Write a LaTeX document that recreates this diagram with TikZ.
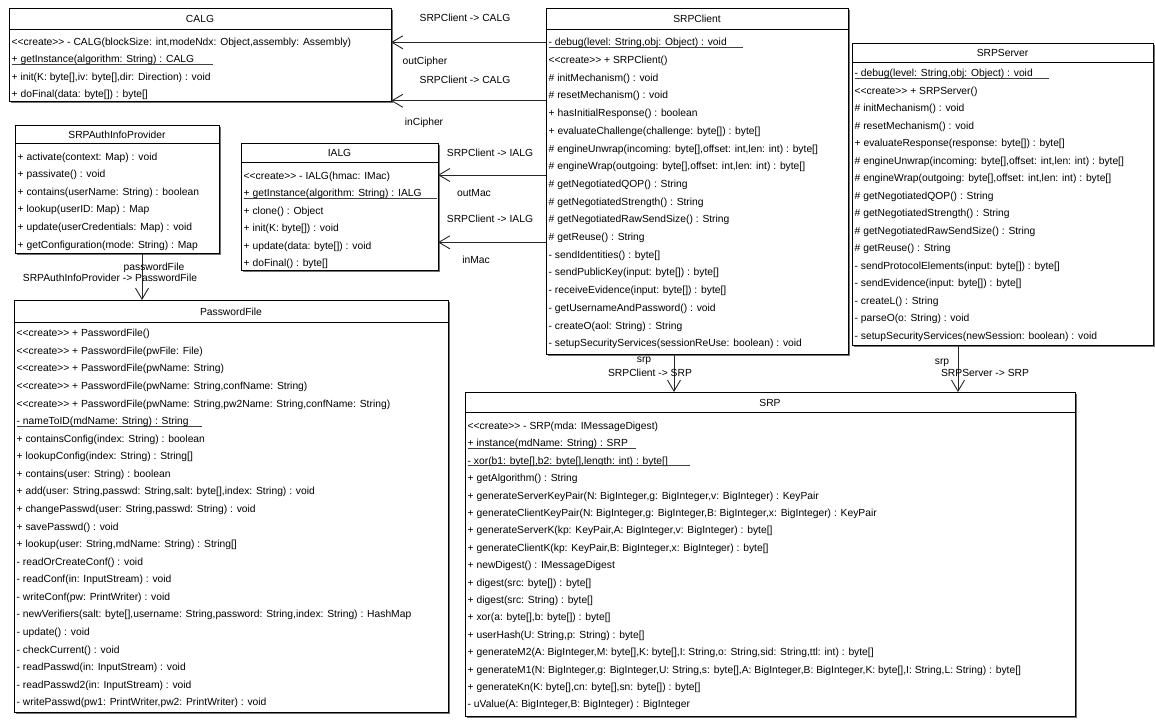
\documentclass[tikz,border=0pt]{standalone}
\usepackage{fontspec}
\setmainfont{Liberation Sans}
\usetikzlibrary{arrows.meta}

\newcommand{\umlsize}{\fontsize{10.3}{12}\selectfont}
% stereotype without the << >> guillemet ligature
\newcommand{\cre}{<{}<create>{}>}

\tikzset{
  umlbox/.style={draw=black, line width=0.9pt, fill=white, rectangle,
    inner sep=0pt, outer sep=0pt, anchor=north west},
  umlshadow/.style={fill=black!55},
  sepline/.style={line width=0.9pt},
  row/.style={anchor=base west, inner sep=0pt, font=\umlsize},
  title/.style={anchor=base, inner sep=0pt, font=\umlsize},
  lbl/.style={anchor=base, inner sep=0pt, font=\umlsize},
  staticline/.style={line width=0.8pt, black!75},
  assoc/.style={line width=0.9pt, black!85,
    -{Straight Barb[length=11pt,width=13pt,line width=0.9pt]}},
}

% class box: name, title, left, right, top, header line, bottom
\newcommand{\umlclass}[7]{%
  \fill[umlshadow] (#3+1.6,#5+1.6) rectangle (#4+1.6,#7+1.6);
  \node[umlbox, minimum width={#4-#3}, minimum height={#7-#5}] (#1) at (#3,#5) {};
  \draw[sepline] (#3,#6) -- (#4,#6);
  \node[title] (#1-title) at ({(#3+#4)/2}, {(#5+#6)/2+4.2}) {#2};
}
% operation rows: name, left, first baseline, spacing, list
\newcommand{\umlrows}[5]{%
  \foreach \t [count=\i] in {#5} {
    \node[row] (#1-\i) at (#2+2.5, {#3+(\i-1)*#4}) {\t};
  }
}
% underline of a static operation: row node, right end x
\newcommand{\staticul}[2]{%
  \coordinate (#1-ul) at ([yshift=-1.4pt]#1.base west);
  \coordinate (#1-ulend) at (#2,0);
  \draw[staticline] (#1-ul) -- (#1-ul -| #1-ulend);
}

\begin{document}
\begin{tikzpicture}[x=1pt, y=-1pt]
\fill[white] (0,0) rectangle (1155,725);
\useasboundingbox (0,0) rectangle (1155,725);

% ---------------- CALG
\umlclass{calg}{CALG}{9}{391}{8}{29.5}{101.5}
\umlrows{calg}{9}{45.5}{17.3}{
  {\cre{} - CALG(blockSize: int,modeNdx: Object,assembly: Assembly)},
  {+ getInstance(algorithm: String) : CALG},
  {+ init(K: byte[],iv: byte[],dir: Direction) : void},
  {+ doFinal(data: byte[]) : byte[]}}
\staticul{calg-2}{213}

% ---------------- SRPClient
\umlclass{srpclient}{SRPClient}{546}{848}{8}{29.5}{354}
\umlrows{srpclient}{546}{45.8}{17.7}{
  {- debug(level: String,obj: Object) : void},
  {\cre{} + SRPClient()},
  {\# initMechanism() : void},
  {\# resetMechanism() : void},
  {+ hasInitialResponse() : boolean},
  {+ evaluateChallenge(challenge: byte[]) : byte[]},
  {\# engineUnwrap(incoming: byte[],offset: int,len: int) : byte[]},
  {\# engineWrap(outgoing: byte[],offset: int,len: int) : byte[]},
  {\# getNegotiatedQOP() : String},
  {\# getNegotiatedStrength() : String},
  {\# getNegotiatedRawSendSize() : String},
  {\# getReuse() : String},
  {- sendIdentities() : byte[]},
  {- sendPublicKey(input: byte[]) : byte[]},
  {- receiveEvidence(input: byte[]) : byte[]},
  {- getUsernameAndPassword() : void},
  {- createO(aol: String) : String},
  {- setupSecurityServices(sessionReUse: boolean) : void}}
\staticul{srpclient-1}{743}

% ---------------- SRPServer
\umlclass{srpserver}{SRPServer}{852}{1153}{43}{62}{345}
\umlrows{srpserver}{852}{76.5}{17.5}{
  {- debug(level: String,obj: Object) : void},
  {\cre{} + SRPServer()},
  {\# initMechanism() : void},
  {\# resetMechanism() : void},
  {+ evaluateResponse(response: byte[]) : byte[]},
  {\# engineUnwrap(incoming: byte[],offset: int,len: int) : byte[]},
  {\# engineWrap(outgoing: byte[],offset: int,len: int) : byte[]},
  {\# getNegotiatedQOP() : String},
  {\# getNegotiatedStrength() : String},
  {\# getNegotiatedRawSendSize() : String},
  {\# getReuse() : String},
  {- sendProtocolElements(input: byte[]) : byte[]},
  {- sendEvidence(input: byte[]) : byte[]},
  {- createL() : String},
  {- parseO(o: String) : void},
  {- setupSecurityServices(newSession: boolean) : void}}
\staticul{srpserver-1}{1049}

% ---------------- SRPAuthInfoProvider
\umlclass{authinfo}{SRPAuthInfoProvider}{15}{219}{125}{143}{253.5}
\umlrows{authinfo}{15}{160}{17.6}{
  {+ activate(context: Map) : void},
  {+ passivate() : void},
  {+ contains(userName: String) : boolean},
  {+ lookup(userID: Map) : Map},
  {+ update(userCredentials: Map) : void},
  {+ getConfiguration(mode: String) : Map}}

% ---------------- IALG
\umlclass{ialg}{IALG}{241}{438}{143}{162}{270}
\umlrows{ialg}{241}{179}{17.55}{
  {\cre{} - IALG(hmac: IMac)},
  {+ getInstance(algorithm: String) : IALG},
  {+ clone() : Object},
  {+ init(K: byte[]) : void},
  {+ update(data: byte[]) : void},
  {+ doFinal() : byte[]}}
\staticul{ialg-2}{436.5}

% ---------------- PasswordFile
\umlclass{pwfile}{PasswordFile}{14}{448}{300}{322}{712}
\umlrows{pwfile}{14}{336.8}{17.57}{
  {\cre{} + PasswordFile()},
  {\cre{} + PasswordFile(pwFile: File)},
  {\cre{} + PasswordFile(pwName: String)},
  {\cre{} + PasswordFile(pwName: String,confName: String)},
  {\cre{} + PasswordFile(pwName: String,pw2Name: String,confName: String)},
  {- nameToID(mdName: String) : String},
  {+ containsConfig(index: String) : boolean},
  {+ lookupConfig(index: String) : String[]},
  {+ contains(user: String) : boolean},
  {+ add(user: String,passwd: String,salt: byte[],index: String) : void},
  {+ changePasswd(user: String,passwd: String) : void},
  {+ savePasswd() : void},
  {+ lookup(user: String,mdName: String) : String[]},
  {- readOrCreateConf() : void},
  {- readConf(in: InputStream) : void},
  {- writeConf(pw: PrintWriter) : void},
  {- newVerifiers(salt: byte[],username: String,password: String,index: String) : HashMap},
  {- update() : void},
  {- checkCurrent() : void},
  {- readPasswd(in: InputStream) : void},
  {- readPasswd2(in: InputStream) : void},
  {- writePasswd(pw1: PrintWriter,pw2: PrintWriter) : void}}
\staticul{pwfile-6}{201.5}

% ---------------- SRP
\umlclass{srp}{SRP}{465}{1075}{392}{412}{716}
\umlrows{srp}{465}{429.5}{17.4}{
  {\cre{} - SRP(mda: IMessageDigest)},
  {+ instance(mdName: String) : SRP},
  {- xor(b1: byte[],b2: byte[],length: int) : byte[]},
  {+ getAlgorithm() : String},
  {+ generateServerKeyPair(N: BigInteger,g: BigInteger,v: BigInteger) : KeyPair},
  {+ generateClientKeyPair(N: BigInteger,g: BigInteger,B: BigInteger,x: BigInteger) : KeyPair},
  {+ generateServerK(kp: KeyPair,A: BigInteger,v: BigInteger) : byte[]},
  {+ generateClientK(kp: KeyPair,B: BigInteger,x: BigInteger) : byte[]},
  {+ newDigest() : IMessageDigest},
  {+ digest(src: byte[]) : byte[]},
  {+ digest(src: String) : byte[]},
  {+ xor(a: byte[],b: byte[]) : byte[]},
  {+ userHash(U: String,p: String) : byte[]},
  {+ generateM2(A: BigInteger,M: byte[],K: byte[],I: String,o: String,sid: String,ttl: int) : byte[]},
  {+ generateM1(N: BigInteger,g: BigInteger,U: String,s: byte[],A: BigInteger,B: BigInteger,K: byte[],I: String,L: String) : byte[]},
  {+ generateKn(K: byte[],cn: byte[],sn: byte[]) : byte[]},
  {- uValue(A: BigInteger,B: BigInteger) : BigInteger}}
\staticul{srp-2}{636}
\staticul{srp-3}{690}

% ---------------- associations
\coordinate (yOutCipher) at (0,42.3);
\coordinate (yInCipher) at (0,100.8);
\coordinate (yOutMac) at (0,175);
\coordinate (yInMac) at (0,242.3);
\coordinate (xPw) at (142,0);
\coordinate (xCliSrp) at (674,0);
\coordinate (xSrvSrp) at (958,0);

\draw[assoc] (srpclient.west |- yOutCipher) -- (calg.east |- yOutCipher);
\draw[assoc] (srpclient.west |- yInCipher) -- (calg.east |- yInCipher);
\draw[assoc] (srpclient.west |- yOutMac) -- (ialg.east |- yOutMac);
\draw[assoc] (srpclient.west |- yInMac) -- (ialg.east |- yInMac);
\draw[assoc] (xPw |- authinfo.south) -- (xPw |- pwfile.north);
\draw[assoc] (xCliSrp |- srpclient.south) -- (xCliSrp |- srp.north);
\draw[assoc] (xSrvSrp |- srpserver.south) -- (xSrvSrp |- srp.north);

% association labels
\node[lbl] (l-out-name) at (465,21.8) {SRPClient -> CALG};
\node[lbl] (l-out-role) at (425,64.5) {outCipher};
\node[lbl] (l-in-name) at (465,83.5) {SRPClient -> CALG};
\node[lbl] (l-in-role) at (424,125) {inCipher};
\node[lbl] (l-omac-name) at (490,156.2) {SRPClient -> IALG};
\node[lbl] (l-omac-role) at (474,196.8) {outMac};
\node[lbl] (l-imac-name) at (490,222.8) {SRPClient -> IALG};
\node[lbl] (l-imac-role) at (476,263.5) {inMac};
\node[lbl] (l-pw-role) at (154,270.2) {passwordFile};
\node[lbl] (l-pw-name) at (110,281.8) {SRPAuthInfoProvider -> PasswordFile};
\node[lbl] (l-cs-role) at (644,362.8) {srp};
\node[lbl] (l-cs-name) at (650,376.5) {SRPClient -> SRP};
\node[lbl] (l-ss-role) at (942,364.2) {srp};
\node[lbl] (l-ss-name) at (985,376.8) {SRPServer -> SRP};
\end{tikzpicture}
\end{document}
